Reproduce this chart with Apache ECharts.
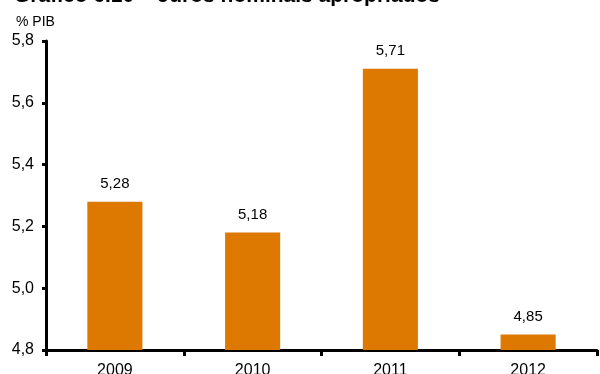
<!DOCTYPE html>
<html>
<head>
<meta charset="utf-8">
<script src="https://cdn.jsdelivr.net/npm/echarts@6/dist/echarts.min.js"></script>
<style>
  html, body { margin: 0; padding: 0; background: #ffffff; }
  #chart { width: 600px; height: 374px; }
</style>
</head>
<body>
<div id="chart"></div>
<script>
// Juros nominais apropriados, % do PIB
const years = ['2009', '2010', '2011', '2012'];
const jurosPIB = [5.28, 5.18, 5.71, 4.85];
const yTicks = [4.8, 5.0, 5.2, 5.4, 5.6, 5.8];

const fmt = (v, d) => v.toFixed(d).replace('.', ',');
const font = 'Liberation Sans, Arial, sans-serif';

const chart = echarts.init(document.getElementById('chart'), null, { renderer: 'canvas' });
chart.setOption({
  animation: false,
  backgroundColor: '#ffffff',
  title: [
    {
      text: 'Gráfico 6.10 – Juros nominais apropriados',
      left: 9, top: -19,
      textStyle: { fontFamily: font, fontSize: 21, fontWeight: 'bold', color: '#000' }
    },
    {
      text: '% PIB',
      left: 11, top: 10,
      textStyle: { fontFamily: font, fontSize: 14, fontWeight: 'normal', color: '#000' }
    }
  ],
  grid: { left: 46, right: 3, top: 41, bottom: 24, containLabel: false, outerBoundsMode: 'none' },
  xAxis: {
    type: 'category',
    data: years,
    axisLine: { lineStyle: { color: '#000', width: 3 } },
    axisTick: { show: true, length: 6, lineStyle: { color: '#000', width: 3 } },
    axisLabel: { color: '#000', fontFamily: font, fontSize: 16, margin: 13 }
  },
  yAxis: {
    type: 'value',
    min: yTicks[0],
    max: yTicks[yTicks.length - 1],
    interval: 0.2,
    axisLine: { show: true, lineStyle: { color: '#000', width: 3 } },
    axisTick: { show: true, length: 4, lineStyle: { color: '#000', width: 3 } },
    splitLine: { show: false },
    axisLabel: { color: '#000', fontFamily: font, fontSize: 16, margin: 12, formatter: v => fmt(v, 1) }
  },
  series: [{
    type: 'bar',
    data: jurosPIB,
    barWidth: '40%',
    itemStyle: { color: '#DD7900' },
    label: {
      show: true,
      position: 'top',
      distance: 10,
      color: '#000',
      fontFamily: font,
      fontSize: 15,
      formatter: p => fmt(p.value, 2)
    }
  }]
});
</script>
</body>
</html>
